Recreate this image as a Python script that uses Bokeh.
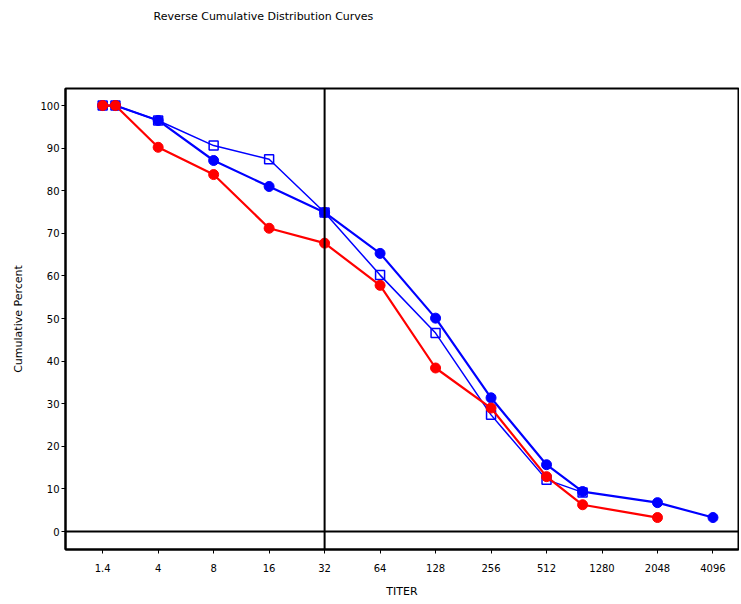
from bokeh.plotting import figure
from bokeh.models import Span, FixedTicker, Range1d, Title
from bokeh.embed import file_html
from bokeh.resources import INLINE

title_text = "Reverse Cumulative Distribution Curves"
tick_labels = ["1.4", "4", "8", "16", "32", "64", "128", "256", "512", "1280", "2048", "4096"]

red_x = [0, 0.23, 1, 2, 3, 4, 5, 6, 7, 8, 8.65, 10]
red_y = [100, 100, 90.2, 83.8, 71.2, 67.7, 57.8, 38.4, 29.0, 12.9, 6.3, 3.3]

blue_x = [0, 0.23, 1, 2, 3, 4, 5, 6, 7, 8, 8.65, 10, 11]
blue_y = [100, 100, 96.5, 87.1, 81.0, 74.9, 65.3, 50.1, 31.4, 15.7, 9.4, 6.8, 3.3]

sq_x = [0, 0.23, 1, 2, 3, 4, 5, 6, 7, 8, 8.65]
sq_y = [100, 100, 96.5, 90.6, 87.4, 74.9, 60.2, 46.6, 27.4, 12.2, 9.2]

ref_y = 0
ref_x = 4

p = figure(width=739, height=600, output_backend="svg", toolbar_location=None, title=None,
           x_range=Range1d(-0.67, 11.46), y_range=Range1d(-4.2, 104),
           min_border_left=65, min_border_right=1, min_border_top=88, min_border_bottom=50)

# spacer between frame and title
p.add_layout(Title(text=" ", text_font_size="44px"), "above")
p.add_layout(Title(text=title_text, align="left", offset=88, text_font="DejaVu Sans",
                   text_font_size="11px", text_font_style="normal", text_color="black"), "above")

p.grid.visible = False
p.outline_line_color = "black"
p.outline_line_width = 2

p.xaxis.ticker = FixedTicker(ticks=list(range(len(tick_labels))))
p.xaxis.major_label_overrides = {i: t for i, t in enumerate(tick_labels)}
p.yaxis.ticker = FixedTicker(ticks=list(range(0, 101, 10)))
for ax in (p.xaxis, p.yaxis):
    ax.axis_line_width = 2
    ax.axis_line_color = "black"
    ax.major_tick_line_color = "black"
    ax.major_tick_line_width = 1
    ax.major_tick_in = 0
    ax.major_tick_out = 4
    ax.minor_tick_line_color = None
    ax.major_label_text_font = "DejaVu Sans"
    ax.major_label_text_font_size = "10px"
    ax.major_label_text_color = "black"
    ax.axis_label_text_font = "DejaVu Sans"
    ax.axis_label_text_font_size = "11px"
    ax.axis_label_text_font_style = "normal"
    ax.axis_label_text_color = "black"
p.xaxis.major_label_standoff = 10
p.yaxis.major_label_standoff = 2
p.xaxis.axis_label = "TITER"
p.yaxis.axis_label = "Cumulative Percent"
p.xaxis.axis_label_standoff = 10
p.yaxis.axis_label_standoff = 12

p.add_layout(Span(location=ref_y, dimension="width", line_color="black", line_width=2))
p.add_layout(Span(location=ref_x, dimension="height", line_color="black", line_width=2))

p.line(sq_x, sq_y, line_color="#0000FF", line_width=1.5)
p.scatter(sq_x, sq_y, marker="square", size=9, fill_color="white", fill_alpha=0,
          line_color="#0000FF", line_width=1.5)

p.line(blue_x, blue_y, line_color="#0000FF", line_width=2.2)
p.scatter(blue_x, blue_y, marker="circle", size=10, fill_color="#0000FF", line_color="#0000FF")

p.line(red_x, red_y, line_color="#FF0000", line_width=2.2)
p.scatter(red_x, red_y, marker="circle", size=10, fill_color="#FF0000", line_color="#FF0000")

open("out.html", "w").write(file_html(p, INLINE))
